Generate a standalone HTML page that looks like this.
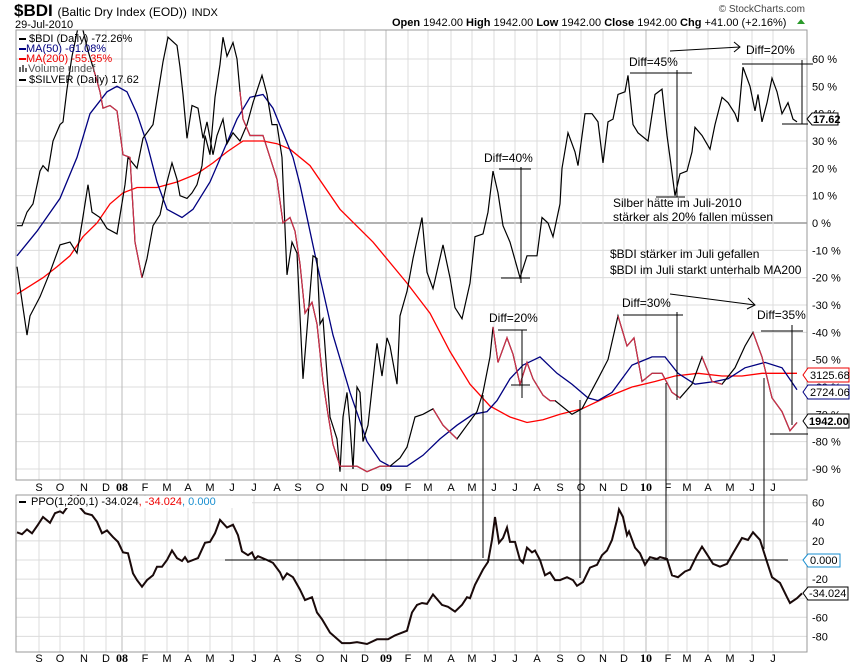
<!DOCTYPE html>
<html><head><meta charset="utf-8">
<style>
html,body{margin:0;padding:0;background:#fff;}
svg{display:block;font-family:"Liberation Sans",Arial,sans-serif;}
</style></head>
<body>
<svg id="chart" width="850" height="668" viewBox="0 0 850 668" xmlns="http://www.w3.org/2000/svg">
<defs>
<clipPath id="mainClip"><rect x="16" y="30" width="791" height="450"/></clipPath>
<clipPath id="ppoClip"><rect x="16" y="495" width="791" height="157"/></clipPath>
</defs>
<rect width="850" height="668" fill="#fff"/>
<g>
<text x="14" y="16" font-size="17" font-weight="bold">$BDI <tspan font-size="12" font-weight="normal">(Baltic Dry Index (EOD))</tspan> <tspan font-size="11" font-weight="normal">INDX</tspan></text>
<text x="15" y="28" font-size="11">29-Jul-2010</text>
<text x="805" y="12" font-size="10" fill="#444" text-anchor="end">© StockCharts.com</text>
<text x="392" y="26" font-size="11"><tspan font-weight="bold">Open</tspan> 1942.00 <tspan font-weight="bold">High</tspan> 1942.00 <tspan font-weight="bold">Low</tspan> 1942.00 <tspan font-weight="bold">Close</tspan> 1942.00 <tspan font-weight="bold">Chg</tspan> +41.00 (+2.16%)</text>
<path d="M797 24 L801 19 L805 24 Z" fill="#2a9a2a"/>
</g>
<g id="mainGrid"></g>
<g id="ppoGrid"></g>
<g id="mainSeries" clip-path="url(#mainClip)"></g>
<g id="ppoSeries" clip-path="url(#ppoClip)"></g>
<rect x="16" y="30" width="791" height="450" fill="none" stroke="#999"/>
<rect x="16" y="495" width="791" height="157" fill="none" stroke="#999"/>
<g id="axes"></g>
<g font-size="11">
<rect x="19" y="38" width="7" height="2" fill="#000"/><text x="29" y="42">$BDI (Daily) -72.26%</text>
<rect x="19" y="48" width="7" height="2" fill="#000080"/><text x="26" y="52" fill="#000080">MA(50) -61.08%</text>
<rect x="19" y="58" width="7" height="2" fill="#e00"/><text x="26" y="62" fill="#e00">MA(200) -55.35%</text>
<rect x="19" y="67" width="2" height="5" fill="#666"/><rect x="22" y="65" width="2" height="7" fill="#666"/><rect x="25" y="68" width="2" height="4" fill="#666"/><text x="28" y="72" fill="#555">Volume undef</text>
<rect x="19" y="79" width="7" height="2" fill="#000"/><text x="29" y="83">$SILVER (Daily) 17.62</text>
</g>
<g font-size="11">
<rect x="17" y="496" width="235" height="12" fill="#fff"/>
<rect x="19" y="501" width="7" height="2" fill="#000"/>
<text x="31" y="505">PPO(1,200,1) -34.024<tspan fill="#e00">, -34.024</tspan><tspan fill="#1a8fd0">, 0.000</tspan></text>
</g>
<g stroke="#000" stroke-width="1" fill="none">
<line x1="499" y1="169" x2="531" y2="169"/><line x1="521" y1="167" x2="521" y2="283"/><line x1="501" y1="278" x2="530" y2="278"/>
<line x1="498" y1="330" x2="527" y2="330"/><line x1="522" y1="330" x2="522" y2="398"/><line x1="511" y1="385" x2="530" y2="385"/>
<line x1="630" y1="73" x2="692" y2="73"/><line x1="677" y1="70" x2="677" y2="197"/><line x1="656" y1="197" x2="685" y2="197"/>
<line x1="742" y1="64" x2="813" y2="64"/><line x1="802" y1="60" x2="802" y2="124"/><line x1="782" y1="124" x2="808" y2="124"/>
<line x1="670" y1="51" x2="740" y2="47"/><polyline points="734,42 740,47 734,52"/>
<line x1="623" y1="315" x2="683" y2="315"/><line x1="677" y1="312" x2="677" y2="400"/>
<line x1="670" y1="294" x2="755" y2="305"/><polyline points="748,298 755,305 747,309"/>
<line x1="761" y1="331" x2="803" y2="331"/><line x1="792" y1="325" x2="792" y2="425"/><line x1="770" y1="434" x2="808" y2="434"/>
<line x1="483" y1="395" x2="483" y2="558"/><line x1="580" y1="400" x2="580" y2="578"/><line x1="666" y1="383" x2="666" y2="558"/><line x1="764" y1="378" x2="764" y2="549"/>
<line x1="225" y1="560" x2="788" y2="560"/>
</g>
<g font-size="12" fill="#000">
<text x="484" y="162">Diff=40%</text>
<text x="489" y="322">Diff=20%</text>
<text x="629" y="66">Diff=45%</text>
<text x="746" y="54">Diff=20%</text>
<text x="622" y="307">Diff=30%</text>
<text x="757" y="319">Diff=35%</text>
<text x="613" y="207">Silber hätte im Juli-2010</text>
<text x="613" y="221">stärker als 20% fallen müssen</text>
<text x="610" y="258">$BDI stärker im Juli gefallen</text>
<text x="610" y="274">$BDI im Juli starkt unterhalb MA200</text>
</g>
<g font-size="11">
<path d="M807 119 L812 113 L838 113 L838 125 L812 125 Z" fill="#fff" stroke="#000"/><text x="813" y="123" font-weight="bold">17.62</text>
<path d="M803 375 L808 368 L849 368 L849 382 L808 382 Z" fill="#fff" stroke="#e00"/><text x="810" y="379">3125.68</text>
<path d="M803 392 L808 385 L849 385 L849 399 L808 399 Z" fill="#fff" stroke="#000080"/><text x="810" y="396">2724.06</text>
<path d="M803 421 L808 414 L849 414 L849 428 L808 428 Z" fill="#fff" stroke="#000"/><text x="809" y="425" font-weight="bold">1942.00</text>
<path d="M803 560 L808 554 L840 554 L840 567 L808 567 Z" fill="#fff" stroke="#1a8fd0"/><text x="810" y="564">0.000</text>
<path d="M803 593 L808 587 L848 587 L848 600 L808 600 Z" fill="#fff" stroke="#000"/><text x="809" y="597">-34.024</text>
</g>
<script>
// x: trading-day index since 1-Aug-2007; main y: percent change; ppo y: PPO value
const monthLabels = ["S","O","N","D","08","F","M","A","M","J","J","A","S","O","N","D","09","F","M","A","M","J","J","A","S","O","N","D","10","F","M","A","M","J","J"];
const monthDays = [22,43,67,89,105,128,150,171,193,215,237,260,281,303,327,348,369,391,411,434,455,477,498,520,543,564,586,607,629,651,670,691,713,735,756];
const pctTicks = [60,50,40,30,20,10,0,-10,-20,-30,-40,-50,-60,-70,-80,-90];
const ppoTicks = [60,40,20,0,-20,-40,-60,-80];

const silverDay = [0,10,13,23,33,43,53,60,65,71,75,83,90,100,108,111,120,126,136,146,151,160,163,166,170,175,181,186,190,196,200,206,210,216,223,230,236,245,250,255,260,265,270,275,280,286,296,300,303,306,313,320,323,326,330,333,336,340,343,346,351,360,365,370,373,380,383,390,396,405,410,416,426,433,438,445,453,458,466,471,476,481,486,493,503,510,520,525,531,536,543,545,551,558,561,568,575,581,586,591,596,601,608,611,616,621,631,638,645,650,653,658,663,670,675,678,685,693,698,705,711,718,721,726,733,738,741,745,750,755,760,765,771,776,780];
const silverPct = [-16,-41,-34,-27,-18,-8,-7,-11,0,14,4,2,-2,-4,14,24,20,31,36,59,68,65,57,47,31,43,42,31,37,25,32,38,29,33,30,36,44,54,47,36,36,24,-19,-7,-11,-57,-12,-13,-37,-35,-71,-79,-91,-71,-62,-74,-90,-60,-62,-80,-74,-44,-56,-42,-45,-59,-34,-25,-13,2,-18,-24,-8,-20,-31,-35,-22,-5,-4,4,19,11,-1,-7,-20,-12,-12,2,0,-5,7,20,33,26,21,40,40,37,22,37,38,47,48,54,36,33,30,47,49,32,24,10,18,19,26,35,32,27,36,46,44,40,37,57,50,41,47,37,44,53,48,40,44,38,37];

const bdiDay = [0,5,10,16,23,26,31,36,43,46,50,55,63,71,76,80,83,86,93,100,106,113,118,125,130,136,143,150,155,160,163,170,175,180,185,188,193,198,203,206,210,216,220,223,226,233,246,253,260,266,273,278,283,288,295,300,306,311,316,323,340,350,363,373,383,390,398,406,416,426,440,450,460,466,473,476,481,490,496,503,510,516,526,533,538,555,565,581,591,601,610,617,625,635,645,655,663,675,685,695,705,718,728,736,745,755,765,773,780];
const bdiPct = [-1,-1,4,7,19,21,19,30,36,37,49,61,75,63,57,52,48,42,43,41,25,24,-7,-20,-13,-1,3,15,22,16,10,9,11,14,21,32,25,46,58,68,61,66,60,48,38,32,32,24,16,0,2,-3,-15,-33,-29,-37,-58,-70,-81,-89,-89,-91,-89,-89,-86,-82,-71,-70,-68,-74,-79,-74,-69,-62,-49,-38,-51,-42,-48,-59,-51,-57,-63,-65,-65,-70,-68,-57,-50,-34,-45,-42,-58,-55,-55,-62,-64,-59,-49,-58,-59,-53,-45,-40,-49,-64,-69,-76,-73];
const bdiDownStart = [76,223,416,476,601,685,736];
const bdiDownEnd = [125,373,440,538,663,705,780];

const ma50Day = [0,20,43,60,73,90,100,110,120,130,140,150,165,176,193,206,220,233,246,256,266,276,283,300,316,333,350,363,373,390,406,423,440,456,470,480,493,506,523,540,555,571,581,595,615,635,648,661,678,698,711,728,748,765,780];
const ma50Pct = [-12,-3,9,24,40,48,50,48,40,29,15,5,2,5,15,26,38,46,47,42,33,24,14,-15,-41,-62,-80,-87,-89,-89,-85,-79,-74,-70,-69,-65,-57,-52,-49,-55,-59,-64,-65,-62,-52,-49,-49,-55,-59,-58,-57,-53,-51,-53,-61];

const ma200Day = [0,13,26,40,53,66,80,93,106,120,140,160,180,196,210,226,246,260,273,293,323,356,390,413,433,453,473,493,510,526,543,565,588,615,638,658,681,705,725,745,765,780];
const ma200Pct = [-26,-23,-20,-16,-12,-5,0,7,11,13,13,15,18,22,26,30,30,29,27,21,5,-7,-22,-33,-47,-59,-67,-71,-73,-72,-70,-68,-64,-60,-58,-56,-55,-56,-56,-55,-55,-55];

const ppoDay = [0,5,10,15,21,26,33,38,43,46,50,53,56,60,63,68,75,80,85,90,96,101,106,111,116,120,125,130,136,140,145,150,155,160,165,168,171,181,188,193,198,203,210,216,221,225,231,235,238,241,250,256,263,266,270,276,283,288,295,300,305,313,325,333,340,350,360,371,378,390,395,400,405,410,416,425,431,438,445,450,453,458,466,471,475,478,482,486,490,493,498,503,506,510,515,518,523,528,533,538,543,550,556,560,566,573,580,585,590,595,600,602,606,610,612,618,623,628,633,640,643,650,655,661,668,673,680,685,690,696,703,710,716,725,731,736,743,750,755,763,770,773,780,785];
const ppoVal = [29,27,32,28,37,45,39,49,51,49,55,63,75,75,55,49,47,40,28,31,24,19,8,7,-14,-21,-28,-21,-16,-7,-7,0,10,2,-1,3,-2,2,18,19,28,42,34,37,26,9,5,8,1,4,0,-3,-13,-20,-14,-18,-31,-42,-39,-55,-62,-76,-87,-87,-86,-88,-83,-83,-79,-74,-55,-47,-45,-46,-36,-47,-49,-54,-47,-39,-40,-26,-10,-2,21,45,18,23,34,19,19,0,-3,13,8,10,0,-16,-13,-21,-21,-18,-21,-27,-23,-8,-5,5,10,21,42,53,45,26,30,13,7,-5,3,1,3,1,-16,-18,-12,-10,5,14,6,-4,-7,-4,7,23,21,29,21,-2,-18,-24,-39,-45,-40,-35];

const NS = "http://www.w3.org/2000/svg";
function xDay(d){ return 17 + d; }
function yPct(p){ return 223 - p * 2.733; }
function yPpo(v){ return 560 - v * 0.955; }
function mk(tag, parent, attrs){
  const el = document.createElementNS(NS, tag);
  for (const k in attrs) el.setAttribute(k, attrs[k]);
  parent.appendChild(el);
  return el;
}
function pathD(days, vals, yf){
  return days.map((d,i)=>(i?"L":"M")+xDay(d).toFixed(1)+" "+yf(vals[i]).toFixed(1)).join(" ");
}

const mainGrid = document.getElementById("mainGrid");
const ppoGrid = document.getElementById("ppoGrid");
const axes = document.getElementById("axes");
const mainSeries = document.getElementById("mainSeries");
const ppoSeries = document.getElementById("ppoSeries");

pctTicks.forEach(p=>{
  const y = yPct(p);
  const gl = mk("line", mainGrid, {x1:16,x2:807,y1:y,y2:y,stroke:p===0?"#666":"#dcdcdc","stroke-width":1});
  
  
  const t = mk("text", axes, {x:812,y:y+4,"font-size":11,fill:"#000"});
  t.textContent = p + " %";
  
  
});
ppoTicks.forEach(v=>{
  const y = yPpo(v);
  const gl = mk("line", ppoGrid, {x1:16,x2:807,y1:y,y2:y,stroke:"#dcdcdc","stroke-width":1});
  
  
  if (v !== 0 && v !== -40) {
    const t = mk("text", axes, {x:812,y:y+4,"font-size":11});
    t.textContent = v;
    
    
  }
});
monthLabels.forEach((m,i)=>{
  const x = xDay(monthDays[i]);
  const isYear = /\d/.test(m);
  [[30,480],[495,652]].forEach(r=>{
    const gl = mk("line", mainGrid, {x1:x,x2:x,y1:r[0],y2:r[1],stroke:isYear?"#bbb":"#dcdcdc","stroke-width":1});
    
    
  });
  [491,662].forEach(yy=>{
    const t = mk("text", axes, {x:x,y:yy,"font-size":isYear?12:11,"text-anchor":"middle","font-weight":isYear?"bold":"normal","font-family":isYear?"Liberation Serif, serif":"Liberation Sans, sans-serif"});
    t.textContent = m;
    
    
  });
});

const s1 = mk("path", mainSeries, {d:pathD(ma200Day, ma200Pct, yPct), fill:"none", stroke:"#f00", "stroke-width":1.3});


const s2 = mk("path", mainSeries, {d:pathD(ma50Day, ma50Pct, yPct), fill:"none", stroke:"#000080", "stroke-width":1.3});


const s3 = mk("path", mainSeries, {d:pathD(silverDay, silverPct, yPct), fill:"none", stroke:"#000", "stroke-width":1.2});


const s4 = mk("path", mainSeries, {d:pathD(bdiDay, bdiPct, yPct), fill:"none", stroke:"#000", "stroke-width":1.2});


bdiDownStart.forEach((a,k)=>{
  const b = bdiDownEnd[k];
  const ds = [], vs = [];
  bdiDay.forEach((d,i)=>{ if (d>=a && d<=b){ ds.push(d); vs.push(bdiPct[i]); } });
  if (ds.length < 2) return;
  const seg = mk("path", mainSeries, {d:pathD(ds, vs, yPct), fill:"none", stroke:"#d0304a", "stroke-width":1.2});
  
  
});
const p1 = mk("path", ppoSeries, {d:pathD(ppoDay, ppoVal, yPpo), fill:"none", stroke:"#1a0a0a", "stroke-width":2});


</script>
</svg>
</body></html>
